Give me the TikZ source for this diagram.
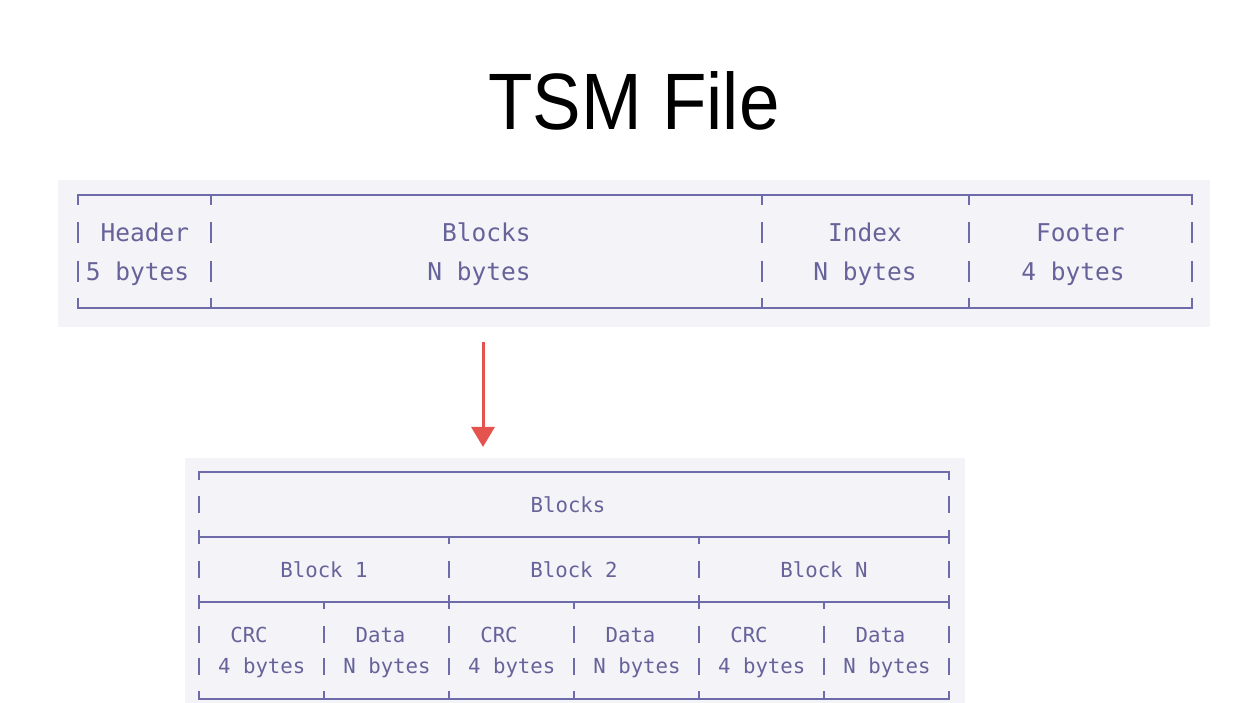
\documentclass[tikz,border=0pt]{standalone}
\usepackage{fontspec}
\setmainfont{Liberation Sans}
\setmonofont{DejaVu Sans Mono}
\usetikzlibrary{arrows.meta}
\definecolor{gridline}{HTML}{6E6BAA}
\definecolor{celltext}{HTML}{67639A}
\definecolor{panel}{HTML}{F3F3F8}
\definecolor{arrowred}{HTML}{E5534F}
\begin{document}
\begin{tikzpicture}[x=1pt,y=-1pt,
  rule/.style={draw=gridline, line width=2.9pt, line cap=rect},
  bar/.style={draw=gridline, line width=2.5pt},
  toptext/.style={text=celltext, anchor=base, inner sep=0pt,
    font=\ttfamily\fontsize{24.5}{28}\selectfont},
  subtext/.style={text=celltext, anchor=base, inner sep=0pt,
    font=\ttfamily\fontsize{20.7}{24}\selectfont},
  panelbox/.style={fill=panel, draw=none}]
\useasboundingbox (0,0) rectangle (1254,703);
\fill[white] (0,0) rectangle (1254,703);

% title
\node[anchor=base, inner sep=0pt] (title) at (634,130)
  {\scalebox{0.91}[1]{\fontsize{80}{80}\selectfont TSM File}};

% ---------- whole file layout ----------
\path[panelbox] (58,180) rectangle (1210,327);
\coordinate (fileA) at (483,342);
\draw[rule] (78,204) -- (78,195) -- (1192,195) -- (1192,204);
\draw[rule] (78,299) -- (78,308) -- (1192,308) -- (1192,299);
\foreach \x in {211,762,969} {
  \draw[rule] (\x,195) -- (\x,204);
  \draw[rule] (\x,308) -- (\x,299);
}
\foreach \x in {78,211,762,969,1192} {
  \draw[bar] (\x,222) -- (\x,243);
  \draw[bar] (\x,261) -- (\x,282);
}
\node[toptext] (hdr)  at (144.9,242) {Header};
\node[toptext] (hdrs) at (137.4,281) {5 bytes};
\node[toptext] (blk)  at (486.4,242) {Blocks};
\node[toptext] (blks) at (479.0,281) {N bytes};
\node[toptext] (idx)  at (865.0,242) {Index};
\node[toptext] (idxs) at (865.0,281) {N bytes};
\node[toptext] (ftr)  at (1080.4,242) {Footer};
\node[toptext] (ftrs) at (1073.0,281) {4 bytes};

% ---------- blocks section ----------
\path[panelbox] (185,458) rectangle (965,703);
\coordinate (fileB) at (483,447);
\draw[-{Triangle[length=20pt,width=23pt]}, draw=arrowred, fill=arrowred,
  line width=3pt] (fileA) -- (fileB);

\draw[rule] (199,479) -- (199,472) -- (949,472) -- (949,479);
\draw[rule] (199,537) -- (949,537);
\draw[rule] (199,602) -- (949,602);
\draw[rule] (199,692) -- (199,699) -- (949,699) -- (949,692);
\foreach \x in {199,949} {
  \draw[rule] (\x,531) -- (\x,543);
  \draw[rule] (\x,596) -- (\x,608);
}
\foreach \x in {449,699} {
  \draw[rule] (\x,537) -- (\x,543);
  \draw[rule] (\x,596) -- (\x,608);
}
\foreach \x in {324,574,824} {
  \draw[rule] (\x,602) -- (\x,608);
}
\foreach \x in {449,699,324,574,824} {
  \draw[rule] (\x,699) -- (\x,692);
}
\foreach \x in {199,949} \draw[bar] (\x,496) -- (\x,513);
\foreach \x in {199,449,699,949} \draw[bar] (\x,561) -- (\x,578);
\foreach \x in {199,324,449,574,699,824,949} {
  \draw[bar] (\x,626) -- (\x,643);
  \draw[bar] (\x,658) -- (\x,675);
}
\node[subtext] (all) at (568,512) {Blocks};
\node[subtext] (b1) at (324,577) {Block 1};
\node[subtext] (b2) at (574,577) {Block 2};
\node[subtext] (bn) at (824,577) {Block N};
\foreach \i/\o in {1/0,2/250,3/500} {
  \node[subtext] (crc\i)  at (249+\o,642) {CRC};
  \node[subtext] (crcs\i) at (261.75+\o,673) {4 bytes};
  \node[subtext] (dat\i)  at (380.5+\o,642) {Data};
  \node[subtext] (dats\i) at (387+\o,673) {N bytes};
}
\end{tikzpicture}
\end{document}
